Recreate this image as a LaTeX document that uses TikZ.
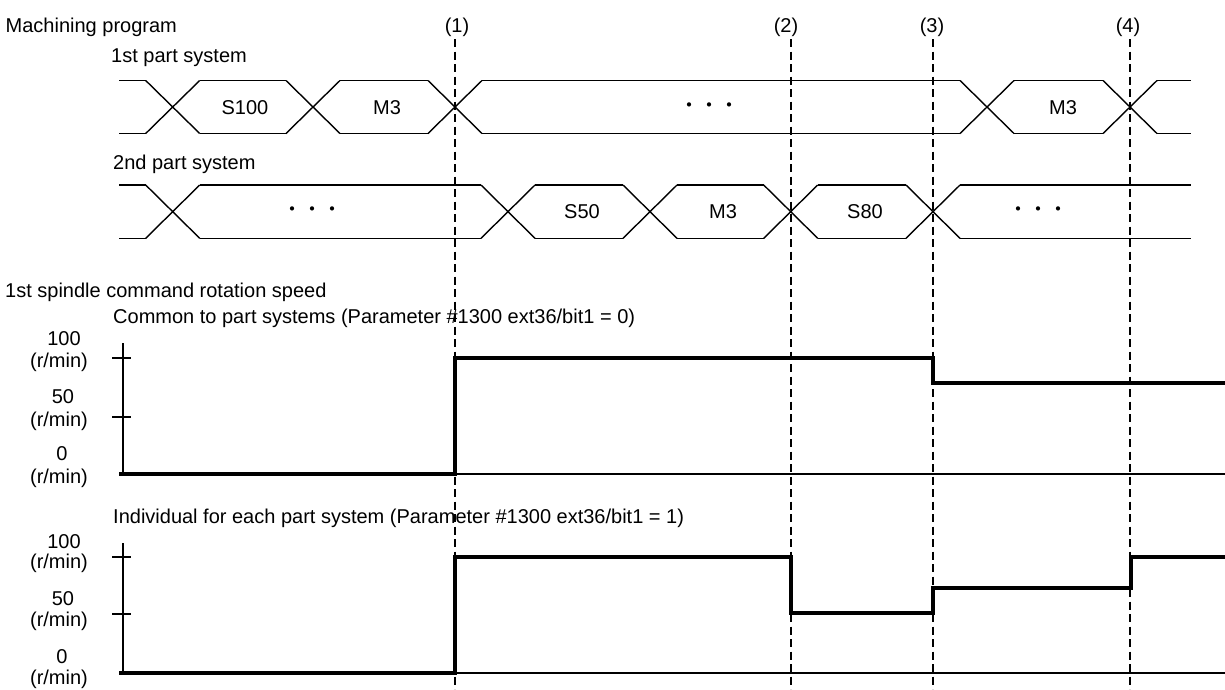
\documentclass[tikz,border=0pt]{standalone}
\usepackage{fontspec}
\setmainfont{Liberation Sans}
\newfontfamily\cjkfont{Noto Sans CJK JP}
\begin{document}
\begin{tikzpicture}[x=1pt,y=-1pt,
  txt/.style={inner sep=0pt, font=\fontsize{20}{24}\selectfont},
  dots/.style={inner sep=0pt, font=\cjkfont\fontsize{20}{24}\selectfont},
  busline/.style={line width=1.4pt},
  sig/.style={line width=3.3pt, line join=miter},
  axisline/.style={line width=1.5pt},
  marker/.style={line width=2.6pt, dash pattern=on 8pt off 4.5pt}]
\useasboundingbox (0,0) rectangle (1225,689);

% ---------- titles ----------
\node[txt,anchor=base west] (mp) at (5.5,32) {Machining program};
\node[txt,anchor=base] (m1) at (457,32) {(1)};
\node[txt,anchor=base] (m2) at (786,32) {(2)};
\node[txt,anchor=base] (m3) at (932,32) {(3)};
\node[txt,anchor=base] (m4) at (1128,32) {(4)};
\node[txt,anchor=base west] (ps1) at (111,62) {1st part system};
\node[txt,anchor=base west] (ps2) at (113,169) {2nd part system};
\node[txt,anchor=base west] (sp) at (5,297) {1st spindle command rotation speed};
\node[txt,anchor=base west] (cm) at (113,323) {Common to part systems (Parameter \#1300 ext36/bit1 = 0)};
\node[txt,anchor=base west] (iv) at (113,523) {Individual for each part system (Parameter \#1300 ext36/bit1 = 1)};

% ---------- bus rows ----------
\def\hw{27}
% row 1
\def\yt{80.5}\def\yb{133.5}
\draw[busline] (119,\yt) -- ({172.7-\hw},\yt) (119,\yb) -- ({172.7-\hw},\yb);
\foreach \c in {172.7,313,455,987,1130}{
  \draw[busline] ({\c-\hw},\yt) -- ({\c+\hw},\yb) ({\c-\hw},\yb) -- ({\c+\hw},\yt);
}
\foreach \a/\b in {172.7/313,313/455,455/987,987/1130}{
  \draw[busline] ({\a+\hw},\yt) -- ({\b-\hw},\yt) ({\a+\hw},\yb) -- ({\b-\hw},\yb);
}
\draw[busline] ({1130+\hw},\yt) -- (1191,\yt) ({1130+\hw},\yb) -- (1191,\yb);
% row 2
\def\yt{185}\def\yb{238.3}
\draw[busline] (119,\yt) -- ({172.7-\hw},\yt) (119,\yb) -- ({172.7-\hw},\yb);
\foreach \c in {172.7,508,650,790.7,933}{
  \draw[busline] ({\c-\hw},\yt) -- ({\c+\hw},\yb) ({\c-\hw},\yb) -- ({\c+\hw},\yt);
}
\foreach \a/\b in {172.7/508,508/650,650/790.7,790.7/933}{
  \draw[busline] ({\a+\hw},\yt) -- ({\b-\hw},\yt) ({\a+\hw},\yb) -- ({\b-\hw},\yb);
}
\draw[busline] ({933+\hw},\yt) -- (1191,\yt) ({933+\hw},\yb) -- (1191,\yb);

% bus labels
\node[txt] (s100) at (245,108) {S100};
\node[txt] (m3a) at (387,108) {M3};
\node[dots] (d1) at (709,108) {・・・};
\node[txt] (m3b) at (1063,108) {M3};
\node[dots] (d2) at (312,211.5) {・・・};
\node[txt] (s50) at (582,212) {S50};
\node[txt] (m3c) at (723,212) {M3};
\node[txt] (s80) at (865,212) {S80};
\node[dots] (d3) at (1038,211.5) {・・・};

% ---------- graph 1 ----------
\node[txt,anchor=base] (g1a) at (64,345) {100};
\node[txt,anchor=base] (g1b) at (59,367) {(r/min)};
\node[txt,anchor=base] (g1c) at (63,403.5) {50};
\node[txt,anchor=base] (g1d) at (59,426) {(r/min)};
\node[txt,anchor=base] (g1e) at (62,460) {0};
\node[txt,anchor=base] (g1f) at (59,483) {(r/min)};
\draw[axisline] (123,343) -- (123,474) -- (1225,474);
\draw[axisline] (112,358) -- (131,358) (112,417) -- (131,417);
\draw[sig] (119,474) -- (455,474) -- (455,358) -- (933,358) -- (933,383) -- (1225,383);

% ---------- graph 2 ----------
\node[txt,anchor=base] (g2a) at (64,548) {100};
\node[txt,anchor=base] (g2b) at (59,568) {(r/min)};
\node[txt,anchor=base] (g2c) at (63,605) {50};
\node[txt,anchor=base] (g2d) at (59,626) {(r/min)};
\node[txt,anchor=base] (g2e) at (62,663) {0};
\node[txt,anchor=base] (g2f) at (59,684) {(r/min)};
\draw[axisline] (123,543) -- (123,673) -- (1225,673);
\draw[axisline] (112,557) -- (131,557) (112,614) -- (131,614);
\draw[sig] (119,673) -- (455,673) -- (455,557) -- (791,557) -- (791,613) -- (933,613) -- (933,588) -- (1131,588) -- (1131,557) -- (1225,557);

% ---------- marker lines ----------
\coordinate (k1t) at (455,39);  \coordinate (k1b) at (455,689);
\coordinate (k2t) at (791,39);  \coordinate (k2b) at (791,689);
\coordinate (k3t) at (933,39);  \coordinate (k3b) at (933,689);
\coordinate (k4t) at (1130,39); \coordinate (k4b) at (1130,689);
\draw[marker] (k1t) -- (k1b);
\draw[marker] (k2t) -- (k2b);
\draw[marker] (k3t) -- (k3b);
\draw[marker] (k4t) -- (k4b);
\end{tikzpicture}
\end{document}
